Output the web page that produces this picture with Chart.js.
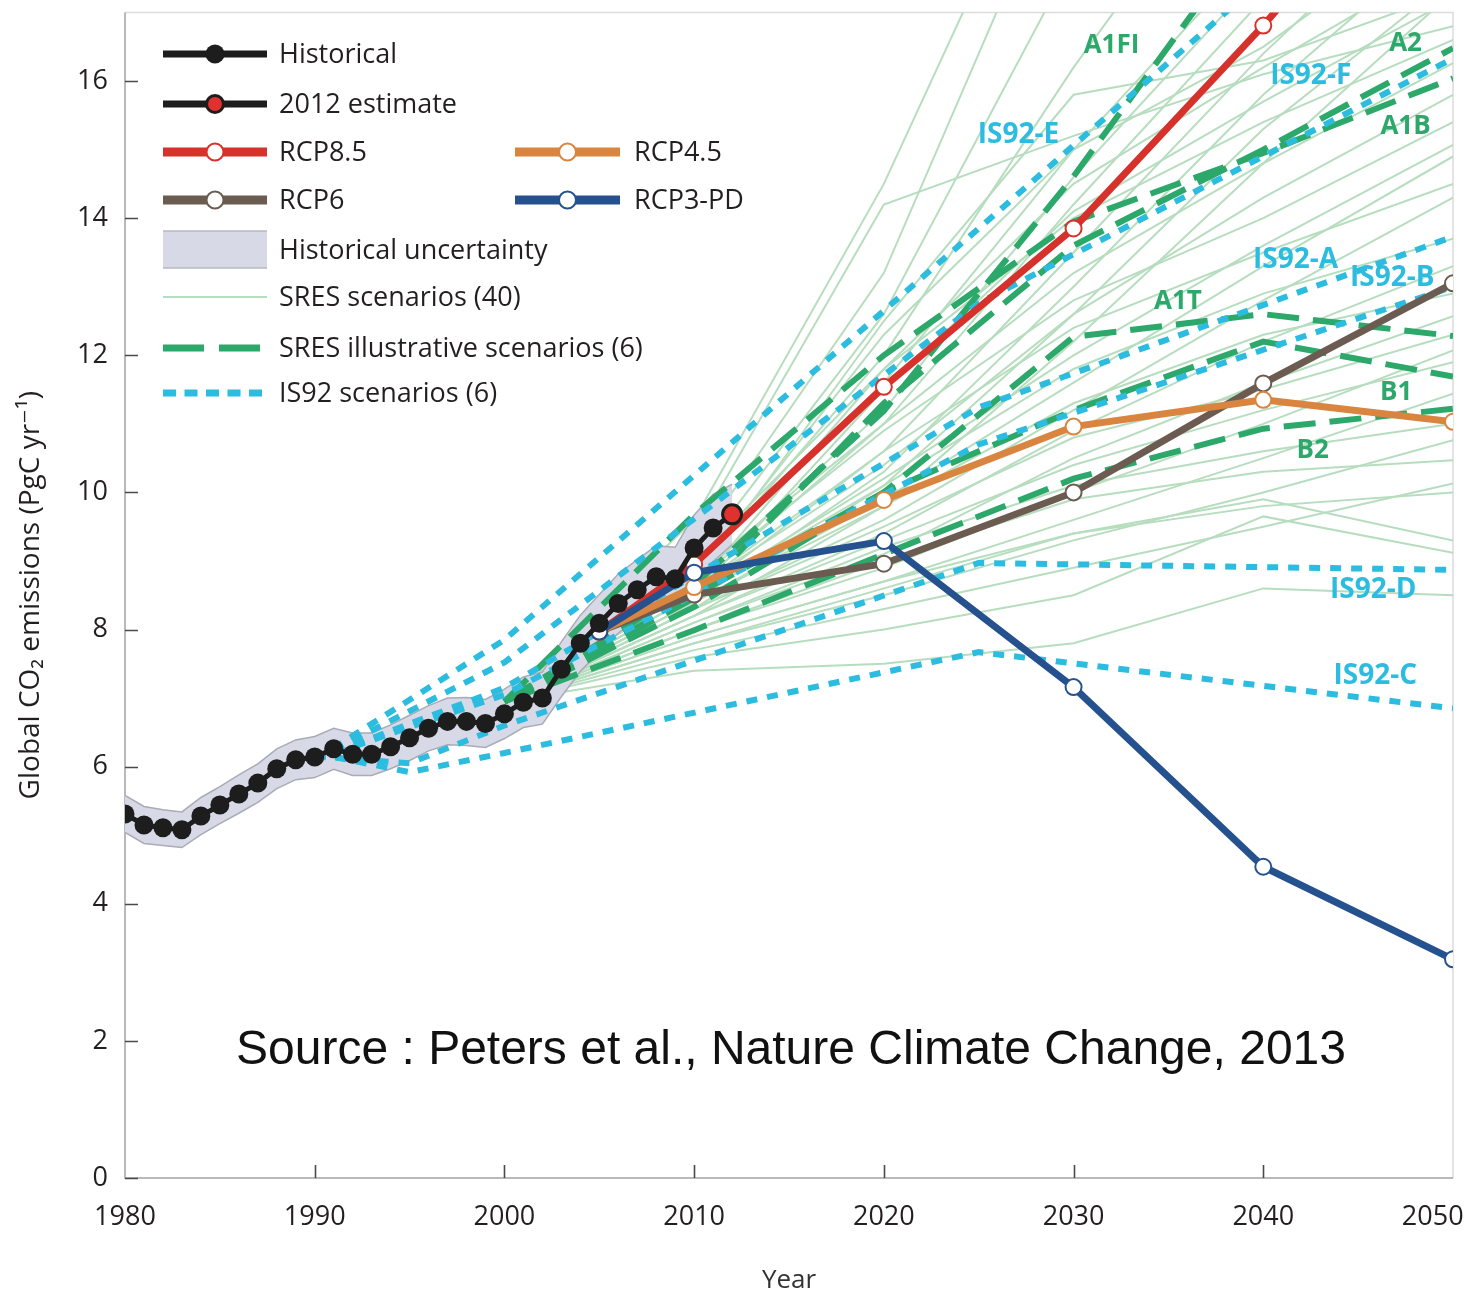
<!DOCTYPE html>
<html>
<head>
<meta charset="utf-8">
<title>Global CO2 emissions: observations and scenarios</title>
<script src="https://cdn.jsdelivr.net/npm/chart.js@4.4.1/dist/chart.umd.min.js"></script>
<style>
  html, body { margin: 0; padding: 0; background: #ffffff; }
  canvas { display: block; }
</style>
</head>
<body>
<canvas id="chart" width="1480" height="1296" style="width:1480px;height:1296px"></canvas>
<script>
// ---------- data (PgC per year) ----------
const histYears = [1980,1981,1982,1983,1984,1985,1986,1987,1988,1989,1990,1991,1992,1993,1994,1995,
                   1996,1997,1998,1999,2000,2001,2002,2003,2004,2005,2006,2007,2008,2009,2010,2011];
const histValues = [5.31,5.15,5.11,5.08,5.28,5.44,5.60,5.76,5.97,6.10,6.14,6.26,6.18,6.18,6.29,6.42,
                    6.56,6.66,6.66,6.63,6.77,6.94,7.00,7.42,7.80,8.09,8.38,8.58,8.77,8.74,9.19,9.48];
const estimateYear = 2012;
const estimateValue = 9.68;

const bandYears = [1980,1981,1982,1983,1984,1985,1986,1987,1988,1989,1990,1991,1992,1993,1994,1995,
                   1996,1997,1998,1999,2000,2001,2002,2003,2004,2005,2006,2007,2008,2009,2010,2011,2012];
const bandUpper = [5.58,5.42,5.37,5.34,5.55,5.71,5.88,6.04,6.26,6.39,6.44,6.56,6.49,6.49,6.61,6.75,
                   6.89,7.00,7.01,6.98,7.13,7.31,7.38,7.82,8.21,8.51,8.81,9.02,9.22,9.20,9.67,9.97,10.12];
const bandLower = [5.04,4.88,4.85,4.82,5.01,5.17,5.32,5.48,5.68,5.81,5.84,5.96,5.87,5.87,5.97,6.09,
                   6.23,6.32,6.31,6.28,6.41,6.57,6.62,7.02,7.39,7.67,7.95,8.14,8.32,8.28,8.71,8.99,9.24];

const rcpYears = [2005,2010,2020,2030,2040,2050];
const rcp85  = [7.97, 8.95, 11.54, 13.85, 16.81, 20.00];
const rcp6   = [7.97, 8.51,  8.96, 10.00, 11.59, 13.05];
const rcp45  = [7.97, 8.62,  9.89, 10.96, 11.35, 11.03];
const rcp3pd = [7.97, 8.83,  9.29,  7.16,  4.54,  3.19];

const sresYears = [2000,2010,2020,2030,2040,2050];
const sresA1FI = [6.95, 8.65, 11.19, 14.61, 18.40, 22.00];
const sresA2   = [6.95, 8.46, 11.30, 13.60, 15.00, 16.48];
const sresA1B  = [6.95, 9.68, 12.00, 13.95, 14.95, 16.04];
const sresA1T  = [6.95, 8.33, 10.00, 12.27, 12.60, 12.28];
const sresB1   = [6.95, 8.50, 10.00, 11.20, 12.20, 11.69];
const sresB2   = [6.95, 7.99,  9.10, 10.20, 10.93, 11.22];
const sresIllustrative = [sresA1FI, sresA2, sresA1B, sresA1T, sresB1, sresB2];
const sresNames = ['A1FI','A2','A1B','A1T','B1','B2'];

// the full SRES family (40 scenarios), same years as above
const sresAll = [
  [6.95, 9.60, 14.50, 20.50, 26.0, 30.0],
  [6.95, 9.20, 13.20, 19.60, 25.0, 30.0],
  [6.95, 9.00, 12.60, 17.80, 22.0, 26.0],
  [6.95, 8.80, 12.00, 16.20, 20.0, 24.0],
  [6.95, 8.90, 11.60, 15.00, 18.0, 21.0],
  [6.95, 8.70, 11.20, 14.60, 17.6, 20.5],
  [6.95, 8.60, 11.00, 14.20, 17.2, 20.0],
  [6.95, 8.80, 12.30, 15.00, 16.5, 18.5],
  [6.95, 8.50, 10.60, 13.50, 16.4, 19.0],
  [6.95, 8.60, 11.80, 14.50, 16.2, 17.8],
  [6.95, 8.40, 10.30, 13.00, 15.8, 18.2],
  [6.95, 8.70, 12.50, 15.80, 16.3, 17.3],
  [6.95, 8.30, 10.10, 12.60, 15.3, 17.5],
  [6.95, 8.50, 11.50, 14.10, 15.7, 17.2],
  [6.95, 9.40, 14.20, 15.20, 16.1, 16.8],
  [6.95, 8.20,  9.80, 12.20, 14.8, 17.3],
  [6.95, 9.00, 11.80, 14.00, 15.4, 16.60],
  [6.95, 8.80, 11.00, 13.20, 14.8, 16.26],
  [6.95, 8.60, 10.40, 12.60, 14.3, 15.80],
  [6.95, 8.70, 10.90, 12.80, 14.0, 15.40],
  [6.95, 8.50, 10.20, 12.00, 13.6, 15.07],
  [6.95, 8.40,  9.90, 11.60, 13.3, 14.90],
  [6.95, 8.60, 10.60, 12.40, 13.5, 14.50],
  [6.95, 8.30,  9.60, 11.20, 12.8, 14.30],
  [6.95, 8.50, 10.10, 11.80, 12.9, 13.70],
  [6.95, 8.20,  9.40, 10.90, 12.2, 13.30],
  [6.95, 8.40,  9.80, 11.30, 12.3, 12.90],
  [6.95, 8.10,  9.10, 10.50, 11.6, 12.57],
  [6.95, 8.30,  9.50, 10.80, 11.5, 12.30],
  [6.95, 8.00,  8.90, 10.00, 11.0, 12.07],
  [6.95, 8.20,  9.30, 10.40, 11.2, 11.90],
  [6.95, 7.90,  8.70,  9.60, 10.5, 11.44],
  [6.95, 8.10,  9.20, 10.10, 10.6, 11.00],
  [6.95, 7.80,  8.50,  9.30, 10.0, 10.76],
  [6.95, 8.00,  9.00,  9.90, 10.3, 10.47],
  [6.95, 7.70,  8.30,  8.90,  9.5, 10.13],
  [6.95, 7.90,  8.70,  9.40,  9.8, 10.00],
  [6.95, 7.80,  8.60,  9.40,  9.9,  9.30],
  [6.95, 7.60,  8.00,  8.50,  9.65, 9.12],
  [6.95, 7.40,  7.50,  7.80,  8.6,  8.50]
];

const is92EYears = [1990,2000,2025,2050];
const is92E = [6.10, 7.85, 13.85, 19.90];
const is92F = [6.10, 7.52, 12.76, 16.33];
const is92A = [6.10, 7.15, 11.24, 13.73];
const is92B = [6.10, 7.05, 10.70, 13.00];
const is92DYears = [1990,1995,2000,2025,2050];
const is92D = [6.15, 6.05, 6.60, 8.97, 8.87];
const is92C = [6.20, 5.92, 6.20, 7.67, 6.85];
const is92Names = ['IS92-E','IS92-F','IS92-A','IS92-B','IS92-D','IS92-C'];

// label anchors in data units [year, value]
const sresLabelAt = [[2032.0,16.52],[2047.5,16.55],[2047.5,15.33],[2035.5,12.79],[2047.0,11.46],[2042.6,10.61]];
const is92LabelAt = [[2027.1,15.22],[2042.5,16.07],[2041.7,13.39],[2046.8,13.13],[2045.8,8.57],[2045.9,7.32]];

const xTicks = [1980,1990,2000,2010,2020,2030,2040,2050];
const yTicks = [0,2,4,6,8,10,12,14,16];

// ---------- styling ----------
const C = {
  hist: '#1d1d1d', est: '#e0312e',
  rcp85: '#d7312b', rcp45: '#d9853f', rcp6: '#6b5b50', rcp3: '#25518f',
  band: '#d7dae6', bandEdge: '#a9abb6',
  sresThin: '#b7ddbf', sres: '#2ba86a', is92: '#2bbce0',
  text: '#231f20'
};
const FONT = "'Open Sans', 'DejaVu Sans', sans-serif";
Chart.defaults.font.family = FONT;
Chart.defaults.color = C.text;

const pts = (xs, ys) => xs.map((x, i) => ({ x: x, y: ys[i] }));

const datasets = [];
sresAll.forEach((s, i) => datasets.push({
  label: 'SRES ' + (i + 1), data: pts(sresYears, s),
  borderColor: C.sresThin, borderWidth: 2, pointRadius: 0, order: 60
}));
datasets.push({
  label: 'uncertainty low', data: pts(bandYears, bandLower),
  borderColor: C.bandEdge, borderWidth: 1.5, pointRadius: 0, fill: false, order: 50
});
datasets.push({
  label: 'Historical uncertainty', data: pts(bandYears, bandUpper),
  borderColor: C.bandEdge, borderWidth: 1.5, pointRadius: 0,
  backgroundColor: C.band, fill: '-1', order: 50
});
sresIllustrative.forEach((s, i) => datasets.push({
  label: sresNames[i], data: pts(sresYears, s),
  borderColor: C.sres, borderWidth: 6, borderDash: [32, 14], pointRadius: 0, order: 40
}));
[[is92EYears, is92E],[is92EYears, is92F],[is92EYears, is92A],[is92EYears, is92B],
 [is92DYears, is92D],[is92DYears, is92C]].forEach((p, i) => datasets.push({
  label: is92Names[i], data: pts(p[0], p[1]),
  borderColor: C.is92, borderWidth: 6, borderDash: [11, 10], pointRadius: 0, order: 30
}));
function rcp(label, vals, col, ord) {
  return { label: label, data: pts(rcpYears, vals), borderColor: col, borderWidth: 7,
    pointRadius: 8, pointBackgroundColor: '#ffffff', pointBorderColor: col,
    pointBorderWidth: 2, order: ord };
}
datasets.push(rcp('RCP6', rcp6, C.rcp6, 24));
datasets.push(rcp('RCP4.5', rcp45, C.rcp45, 23));
datasets.push(rcp('RCP8.5', rcp85, C.rcp85, 22));
datasets.push(rcp('RCP3-PD', rcp3pd, C.rcp3, 21));
const lastIdx = histYears.length;
datasets.push({
  label: 'Historical',
  data: pts(histYears.concat([estimateYear]), histValues.concat([estimateValue])),
  borderColor: C.hist, borderWidth: 5,
  pointRadius: 9.5,
  pointBackgroundColor: ctx => ctx.dataIndex === lastIdx ? C.est : C.hist,
  pointBorderColor: C.hist,
  pointBorderWidth: ctx => ctx.dataIndex === lastIdx ? 3 : 0,
  order: 10
});

// ---------- plugins ----------
const frame = {
  id: 'frame',
  beforeDatasetsDraw(chart) {
    const { ctx, chartArea: a } = chart;
    ctx.save();
    ctx.lineWidth = 1.5;
    ctx.strokeStyle = '#dcdcdc';
    ctx.beginPath();
    ctx.moveTo(a.left, a.top); ctx.lineTo(a.right, a.top); ctx.lineTo(a.right, a.bottom);
    ctx.stroke();
    ctx.strokeStyle = '#a3a3a3';
    ctx.beginPath();
    ctx.moveTo(a.left, a.top); ctx.lineTo(a.left, a.bottom); ctx.lineTo(a.right, a.bottom);
    ctx.stroke();
    ctx.restore();
  },
  afterDatasetsDraw(chart) {
    const { ctx, chartArea: a, scales } = chart;
    ctx.save();
    ctx.lineWidth = 1.6;
    ctx.strokeStyle = '#4a4a4a';
    ctx.beginPath();
    scales.y.ticks.forEach(t => {
      const y = Math.round(scales.y.getPixelForValue(t.value)) + 0.5;
      ctx.moveTo(a.left, y); ctx.lineTo(a.left + 13, y);
    });
    scales.x.ticks.forEach(t => {
      const x = Math.round(scales.x.getPixelForValue(t.value)) + 0.5;
      if (x > a.left + 2 && x < a.right - 2) { ctx.moveTo(x, a.bottom); ctx.lineTo(x, a.bottom - 13); }
    });
    ctx.stroke();
    ctx.restore();
  }
};

const scenarioLabels = {
  id: 'scenarioLabels',
  afterDatasetsDraw(chart) {
    const { ctx, scales } = chart;
    ctx.save();
    ctx.textAlign = 'center';
    ctx.textBaseline = 'middle';
    ctx.font = "bold 26px " + FONT;
    ctx.fillStyle = C.sres;
    sresNames.forEach((n, i) => ctx.fillText(n,
      scales.x.getPixelForValue(sresLabelAt[i][0]), scales.y.getPixelForValue(sresLabelAt[i][1])));
    ctx.font = "bold 28px " + FONT;
    ctx.fillStyle = C.is92;
    is92Names.forEach((n, i) => ctx.fillText(n,
      scales.x.getPixelForValue(is92LabelAt[i][0]), scales.y.getPixelForValue(is92LabelAt[i][1])));
    ctx.restore();
  }
};

const keyBox = {
  id: 'keyBox',
  afterDraw(chart) {
    const { ctx } = chart;
    ctx.save();
    const rows = [54, 104, 152, 200, 250, 297, 348, 393];
    const c1 = [163, 267, 279], c2 = [515, 620, 634];
    ctx.font = "27px " + FONT;
    ctx.textBaseline = 'middle';
    ctx.textAlign = 'left';
    function seg(c, y, col, w, dash) {
      ctx.save();
      ctx.strokeStyle = col; ctx.lineWidth = w; ctx.lineCap = 'butt';
      ctx.setLineDash(dash || []);
      ctx.beginPath(); ctx.moveTo(c[0], y); ctx.lineTo(c[1], y); ctx.stroke();
      ctx.restore();
    }
    function dot(c, y, fill, stroke, r, w) {
      ctx.beginPath(); ctx.arc((c[0] + c[1]) / 2, y, r, 0, Math.PI * 2);
      ctx.fillStyle = fill; ctx.fill();
      if (w) { ctx.lineWidth = w; ctx.strokeStyle = stroke; ctx.stroke(); }
    }
    function text(c, y, s) { ctx.fillStyle = C.text; ctx.fillText(s, c[2], y + 1); }

    seg(c1, rows[0], C.hist, 7); dot(c1, rows[0], C.hist, C.hist, 9.5, 0); text(c1, rows[0], 'Historical');
    seg(c1, rows[1], C.hist, 7); dot(c1, rows[1], C.est, C.hist, 8.5, 3); text(c1, rows[1], '2012 estimate');
    seg(c1, rows[2], C.rcp85, 9); dot(c1, rows[2], '#fff', C.rcp85, 8.5, 2); text(c1, rows[2], 'RCP8.5');
    seg(c2, rows[2], C.rcp45, 9); dot(c2, rows[2], '#fff', C.rcp45, 8.5, 2); text(c2, rows[2], 'RCP4.5');
    seg(c1, rows[3], C.rcp6, 9); dot(c1, rows[3], '#fff', C.rcp6, 8.5, 2); text(c1, rows[3], 'RCP6');
    seg(c2, rows[3], C.rcp3, 9); dot(c2, rows[3], '#fff', C.rcp3, 8.5, 2); text(c2, rows[3], 'RCP3-PD');
    ctx.fillStyle = C.band; ctx.fillRect(c1[0], rows[4] - 19, c1[1] - c1[0], 37);
    ctx.strokeStyle = '#b8b9c0'; ctx.lineWidth = 1.5;
    ctx.beginPath();
    ctx.moveTo(c1[0], rows[4] - 19); ctx.lineTo(c1[1], rows[4] - 19);
    ctx.moveTo(c1[0], rows[4] + 18); ctx.lineTo(c1[1], rows[4] + 18);
    ctx.stroke();
    text(c1, rows[4], 'Historical uncertainty');
    seg(c1, rows[5], C.sresThin, 2); text(c1, rows[5], 'SRES scenarios (40)');
    seg(c1, rows[6], C.sres, 7, [41, 15]); text(c1, rows[6], 'SRES illustrative scenarios (6)');
    seg(c1, rows[7], C.is92, 7, [13, 8.5]); text(c1, rows[7], 'IS92 scenarios (6)');
    ctx.restore();
  }
};

const sourceNote = {
  id: 'sourceNote',
  afterDraw(chart) {
    const { ctx } = chart;
    ctx.save();
    ctx.font = "48px 'Liberation Sans', Arial, sans-serif";
    ctx.fillStyle = '#111111';
    ctx.textAlign = 'center';
    ctx.textBaseline = 'alphabetic';
    ctx.fillText('Source : Peters et al., Nature Climate Change, 2013', 791, 1064);
    ctx.restore();
  }
};

// keep the plot area fixed: no extra room for overhanging tick labels
function noOverhang(s) {
  s.paddingLeft = 0; s.paddingRight = 0; s.paddingTop = 0; s.paddingBottom = 0;
}

new Chart(document.getElementById('chart'), {
  type: 'line',
  data: { datasets: datasets },
  options: {
    responsive: false,
    animation: false,
    devicePixelRatio: 1,
    layout: { padding: { top: 6, right: 27, left: 0, bottom: 0 } },
    elements: { line: { tension: 0, fill: false } },
    plugins: { legend: { display: false }, tooltip: { enabled: false } },
    scales: {
      x: {
        type: 'linear', min: 1980, max: 2050,
        afterBuildTicks: s => { s.ticks = xTicks.map(v => ({ value: v })); },
        afterFit: s => { s.height = 118; noOverhang(s); },
        grid: { display: false, drawTicks: false },
        border: { display: false },
        ticks: { font: { size: 27 }, color: C.text, padding: 23, maxRotation: 0,
                 callback: v => v === 2050 ? '2050\u2003\u2002' : String(v) },
        title: { display: true, text: 'Year', font: { size: 26 }, color: '#333',
                 padding: { top: 4, bottom: 0 } }
      },
      y: {
        type: 'linear', min: 0, max: 17,
        afterBuildTicks: s => { s.ticks = yTicks.map(v => ({ value: v })); },
        afterFit: s => { s.width = 125; noOverhang(s); },
        grid: { display: false, drawTicks: false },
        border: { display: false },
        ticks: { font: { size: 27 }, color: C.text, padding: 17 },
        title: { display: true, text: 'Global CO\u2082 emissions (PgC yr\u207B\u00B9)',
                 font: { size: 28 }, color: C.text, padding: { top: 14, bottom: 0 } }
      }
    }
  },
  plugins: [frame, scenarioLabels, keyBox, sourceNote]
});
</script>
</body>
</html>
